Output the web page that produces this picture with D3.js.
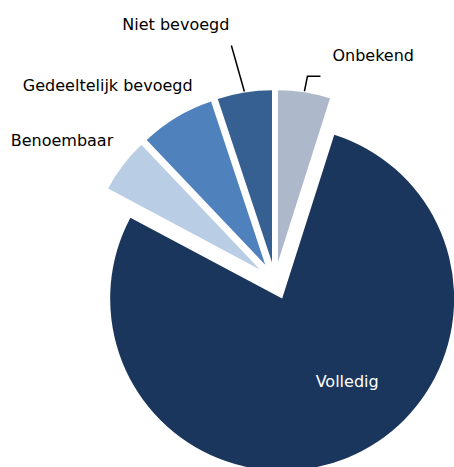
<!DOCTYPE html>
<html>
<head>
<meta charset="utf-8">
<script src="https://cdn.jsdelivr.net/npm/d3@7"></script>
<style>
  body { margin: 0; background: #fff; }
  text { font-family: "DejaVu Sans", Verdana, sans-serif; font-size: 16px; }
  .leader { fill: none; stroke: #000; stroke-width: 1.5px; }
</style>
</head>
<body>
<script>
// data, clockwise from 12 o'clock
const categories = ["Onbekend", "Volledig", "Benoembaar", "Gedeeltelijk bevoegd", "Niet bevoegd"];
const values = [4.9, 77.9, 5.1, 7.0, 5.1];
const colors = ["#adb9ca", "#1b365d", "#b9cde5", "#4f81bd", "#376092"];

const width = 454, height = 467;
const cx = 275, cy = 281;   // pie centre
const radius = 172;
const explode = 19;         // every slice pushed out along its bisector

const svg = d3.select("body").append("svg")
  .attr("width", width).attr("height", height);

const slices = categories.map((c, i) => ({ name: c, value: values[i], color: colors[i] }));

const pie = d3.pie().sort(null).value(d => d.value).startAngle(0);
const arcs = pie(slices);
const arc = d3.arc().innerRadius(0).outerRadius(radius);

const mid = d => (d.startAngle + d.endAngle) / 2;
// point along the bisector of a slice, r counted from its own (exploded) tip
function along(d, r) {
  const a = mid(d);
  return [cx + (explode + r) * Math.sin(a), cy - (explode + r) * Math.cos(a)];
}

const g = svg.append("g");
g.selectAll("path.slice")
  .data(arcs)
  .enter().append("path")
  .attr("class", "slice")
  .attr("d", arc)
  .attr("fill", d => d.data.color)
  .attr("transform", d => {
    const p = along(d, 0);
    return "translate(" + p[0] + "," + p[1] + ")";
  });

// labels: offsets from the outer edge of each slice
const byName = {};
arcs.forEach(d => { byName[d.data.name] = d; });

// Niet bevoegd: straight leader
(function () {
  const d = byName["Niet bevoegd"];
  const p0 = along(d, radius + 1);
  const p1 = [p0[0] - 13, p0[1] - 46];
  svg.append("path").attr("class", "leader")
    .attr("d", "M" + p0[0] + "," + p0[1] + "L" + p1[0] + "," + p1[1]);
  svg.append("text").attr("x", p1[0] - 2).attr("y", p1[1] - 15)
    .attr("text-anchor", "end").text(d.data.name);
})();

// Onbekend: elbow leader
(function () {
  const d = byName["Onbekend"];
  const p0 = along(d, radius + 1);
  const p1 = [p0[0] + 3, p0[1] - 15];
  const p2 = [p1[0] + 13, p1[1]];
  svg.append("path").attr("class", "leader")
    .attr("d", "M" + p0[0] + "," + p0[1] + "L" + p1[0] + "," + p1[1] + "L" + p2[0] + "," + p2[1]);
  svg.append("text").attr("x", p2[0] + 12).attr("y", p2[1] - 15)
    .attr("text-anchor", "start").text(d.data.name);
})();

(function () {
  const d = byName["Gedeeltelijk bevoegd"];
  const p = along(d, radius);
  svg.append("text").attr("x", p[0] - 69).attr("y", p[1] - 26)
    .attr("text-anchor", "middle").text(d.data.name);
})();

(function () {
  const d = byName["Benoembaar"];
  const p = along(d, radius);
  svg.append("text").attr("x", p[0] - 61).attr("y", p[1] - 19)
    .attr("text-anchor", "middle").text(d.data.name);
})();

(function () {
  const d = byName["Volledig"];
  const p = along(d, 0);
  svg.append("text").attr("x", p[0] + 65).attr("y", p[1] + 88)
    .attr("text-anchor", "middle").attr("fill", "#fff").text(d.data.name);
})();
</script>
</body>
</html>
